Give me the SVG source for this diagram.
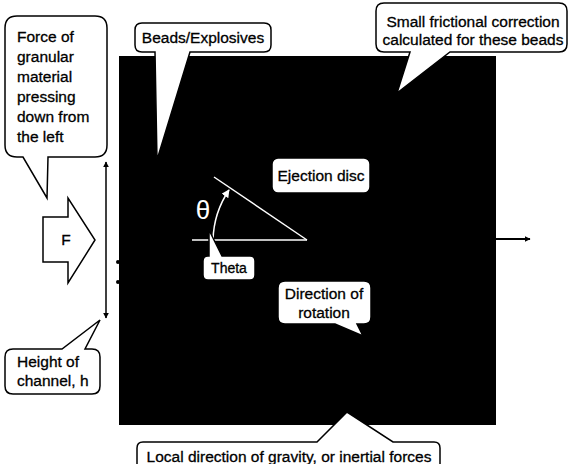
<svg xmlns="http://www.w3.org/2000/svg" width="569" height="464" viewBox="0 0 569 464">
<style>
.t{font-family:"Liberation Sans",Arial,sans-serif;font-size:15.5px;fill:#000;stroke:#000;stroke-width:0.3}
.c{fill:#fff;stroke:#000;stroke-width:1.5}
.m{text-anchor:middle}
</style>
<defs>
<marker id="ab" viewBox="0 0 10 10" refX="9" refY="5" markerWidth="6" markerHeight="6" orient="auto-start-reverse" markerUnits="userSpaceOnUse"><path d="M0,0 L10,5 L0,10 Z" fill="#000"/></marker>
<marker id="aw" viewBox="0 0 10 10" refX="9" refY="5" markerWidth="8" markerHeight="8" orient="auto" markerUnits="userSpaceOnUse"><path d="M0,0 L10,5 L0,10 Z" fill="#fff"/></marker>
</defs>
<rect width="569" height="464" fill="#fff"/>
<g id="disc">
<rect x="119" y="56" width="377" height="369" fill="#000"/>
<circle cx="118" cy="262" r="2" fill="#000"/>
<circle cx="118" cy="282" r="2" fill="#000"/>
</g>
<g id="connectors">
<line x1="106" y1="162" x2="106" y2="318" stroke="#000" stroke-width="1.5" marker-start="url(#ab)" marker-end="url(#ab)"/>
<line x1="496" y1="239" x2="530" y2="239" stroke="#000" stroke-width="2" marker-end="url(#ab)"/>
</g>
<g id="angle" stroke="#fff" stroke-width="1.5" fill="none">
<line x1="192" y1="240" x2="307" y2="240"/>
<line x1="214" y1="177" x2="307" y2="240"/>
<path d="M213,240 A94,94 0 0 1 229,190" marker-end="url(#aw)"/>
</g>
<text x="203" y="219" class="m" style="font-family:'Liberation Sans',Arial,sans-serif;font-size:26px;fill:#fff">θ</text>
<g id="force-arrow">
<path class="c" d="M43,217 H68 V198 L95,240 L68,283 V262 H43 Z"/>
<text x="66" y="245" class="t m">F</text>
</g>
<g id="force-callout">
<path class="c" d="M17,16 H95 Q107,16 107,28 V145 Q107,157 95,157 H48 L47,198 L23,157 H17 Q5,157 5,145 V28 Q5,16 17,16 Z"/>
<text class="t" x="17" y="42">Force of</text>
<text class="t" x="17" y="62">granular</text>
<text class="t" x="17" y="82">material</text>
<text class="t" x="17" y="102">pressing</text>
<text class="t" x="17" y="122">down from</text>
<text class="t" x="17" y="142">the left</text>
</g>
<g id="beads-callout">
<path class="c" d="M142,23 H264 Q271,23 271,30 V45 Q271,52 264,52 H190 L157,160 L155,52 H142 Q135,52 135,45 V30 Q135,23 142,23 Z"/>
<text class="t m" x="203" y="43">Beads/Explosives</text>
</g>
<g id="friction-callout">
<path class="c" d="M384,3 H559 Q567,3 567,11 V44 Q567,52 559,52 H450 L397,93 L410,52 H384 Q376,52 376,44 V11 Q376,3 384,3 Z"/>
<text class="t m" x="473" y="27">Small frictional correction</text>
<text class="t m" x="473" y="45">calculated for these beads</text>
</g>
<g id="ejection-label">
<rect class="c" x="272" y="158" width="98" height="35" rx="6"/>
<text class="t m" x="321" y="181">Ejection disc</text>
</g>
<g id="theta-callout">
<path class="c" d="M208,256 H209 L209,230 L222,256 H250 Q255,256 255,261 V275 Q255,280 250,280 H208 Q203,280 203,275 V261 Q203,256 208,256 Z"/>
<text class="t m" x="229" y="273" style="font-size:14px">Theta</text>
</g>
<g id="rotation-callout">
<path class="c" d="M285,281 H364 Q371,281 371,288 V317 Q371,324 364,324 H357 L363,336 L335,324 H285 Q278,324 278,317 V288 Q278,281 285,281 Z"/>
<text class="t m" x="324" y="299">Direction of</text>
<text class="t m" x="324" y="318">rotation</text>
</g>
<g id="height-callout">
<path class="c" d="M13,349 H62 L100,320 L85,349 H92 Q100,349 100,357 V386 Q100,394 92,394 H13 Q5,394 5,386 V357 Q5,349 13,349 Z"/>
<text class="t" x="17" y="367">Height of</text>
<text class="t" x="17" y="386">channel, h</text>
</g>
<g id="gravity-callout">
<path class="c" d="M143,442 H317 L347,412 L393,442 H434 Q440,442 440,448 V475 H137 V448 Q137,442 143,442 Z"/>
<text class="t m" x="289" y="462">Local direction of gravity, or inertial forces</text>
</g>
</svg>
